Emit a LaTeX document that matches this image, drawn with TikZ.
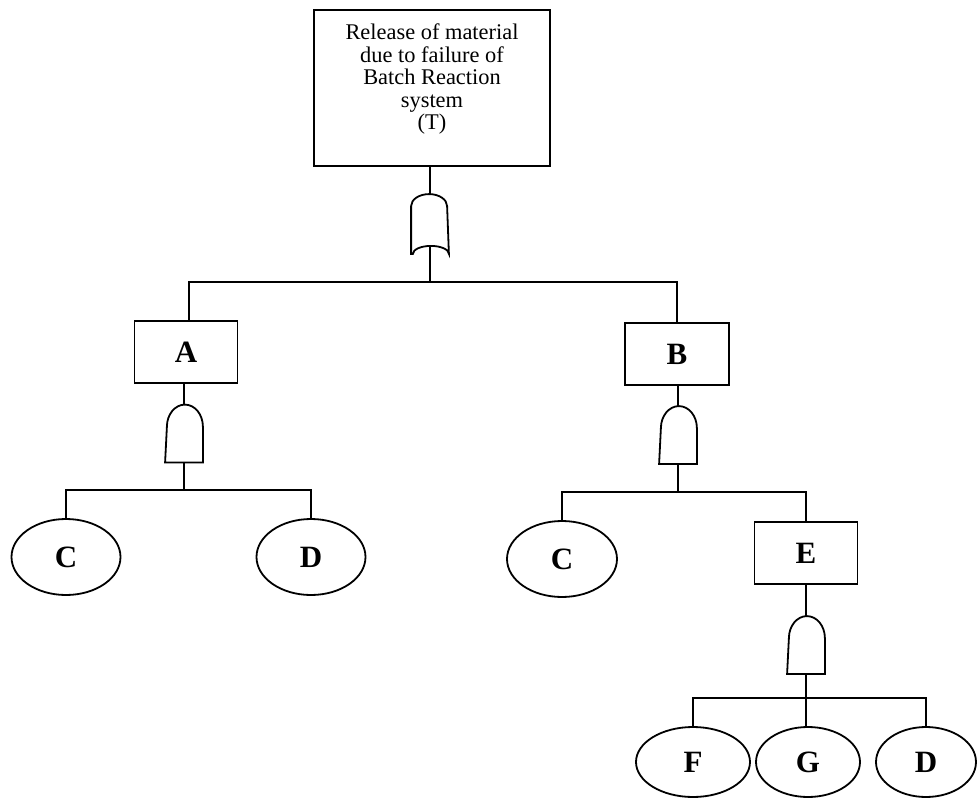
\documentclass[tikz,border=0pt]{standalone}
\usepackage{fontspec}
\setmainfont{Liberation Serif}
\usetikzlibrary{shapes.geometric}
\begin{document}
\begin{tikzpicture}[x=1pt,y=-1pt,line width=1.8pt,
  eventbox/.style={draw,rectangle,inner sep=0pt},
  letter/.style={font=\fontsize{31}{31}\selectfont\bfseries},
  basic/.style={draw,ellipse,inner sep=0pt},
  gatebox/.style={rectangle,inner sep=0pt,minimum width=36pt},
  wire/.style={line width=1.8pt}]
\useasboundingbox (0,0) rectangle (978,800);
% top event
\node[eventbox,minimum width=236pt,minimum height=156pt] (T) at (432,88) {};
\node[align=center,inner sep=0pt,font=\fontsize{22.4}{22.5}\selectfont] (Ttext) at (432,79)
  {Release of material\\due to failure of\\Batch Reaction\\system\\(T)};
% OR gate
\node[gatebox,minimum height=50pt] (g1) at (430,220) {};
\draw ([yshift=-8pt]g1.south west) -- ([yshift=-12pt]g1.north west)
  arc[start angle=180,end angle=0,x radius=18pt,y radius=12pt]
  -- ([yshift=-8pt]g1.south east)
  arc[start angle=0,end angle=180,x radius=18pt,y radius=8pt] -- cycle;
% level 1 events
\node[eventbox,letter,minimum width=103pt,minimum height=62pt] (A) at (186,352) {A};
\node[eventbox,letter,minimum width=104pt,minimum height=62pt] (B) at (677,354) {B};
% AND gates
\node[gatebox,minimum height=56pt] (gA) at (184,433.5) {};
\node[gatebox,minimum height=56pt] (gB) at (678,435) {};
\node[gatebox,minimum height=56pt] (gE) at (806,645) {};
\foreach \g in {gA,gB,gE}{
  \draw (\g.south west) -- (\g.south east) -- ([yshift=-22pt]\g.north east)
    arc[start angle=0,end angle=180,x radius=18pt,y radius=22pt] -- cycle;
}
% basic events and E
\node[basic,letter,minimum width=109pt,minimum height=76pt] (C1) at (66,557) {C};
\node[basic,letter,minimum width=109pt,minimum height=76pt] (D1) at (311,557) {D};
\node[basic,letter,minimum width=110pt,minimum height=76pt] (C2) at (562,559) {C};
\node[eventbox,letter,minimum width=103pt,minimum height=62pt] (E) at (806,553) {E};
\node[basic,letter,minimum width=114pt,minimum height=70pt] (F) at (693,762) {F};
\node[basic,letter,minimum width=104pt,minimum height=70pt] (G) at (808,762) {G};
\node[basic,letter,minimum width=100pt,minimum height=70pt] (D2) at (926,762) {D};
% bus coordinates
\coordinate (bus1) at (430,282);
\coordinate (busA) at (184,490);
\coordinate (busB) at (678,492);
\coordinate (busE) at (806,698);
% connectors
\draw[wire] (T.south -| g1.north) -- (g1.north);
\draw[wire] (g1.south) -- (bus1);
\draw[wire] (A.north -| 189,0) -- (bus1 -| 189,0) -- (bus1 -| B.north) -- (B.north);
\draw[wire] (A.south -| gA.north) -- (gA.north);
\draw[wire] (gA.south) -- (busA);
\draw[wire] (C1.north) -- (busA -| C1.north) -- (busA -| D1.north) -- (D1.north);
\draw[wire] (B.south -| gB.north) -- (gB.north);
\draw[wire] (gB.south) -- (busB);
\draw[wire] (C2.north) -- (busB -| C2.north) -- (busB -| E.north) -- (E.north);
\draw[wire] (E.south -| gE.north) -- (gE.north);
\draw[wire] (gE.south) -- (busE);
\draw[wire] (F.north) -- (busE -| F.north) -- (busE -| D2.north) -- (D2.north);
\draw[wire] (busE) -- (G.north -| busE);
\end{tikzpicture}
\end{document}
